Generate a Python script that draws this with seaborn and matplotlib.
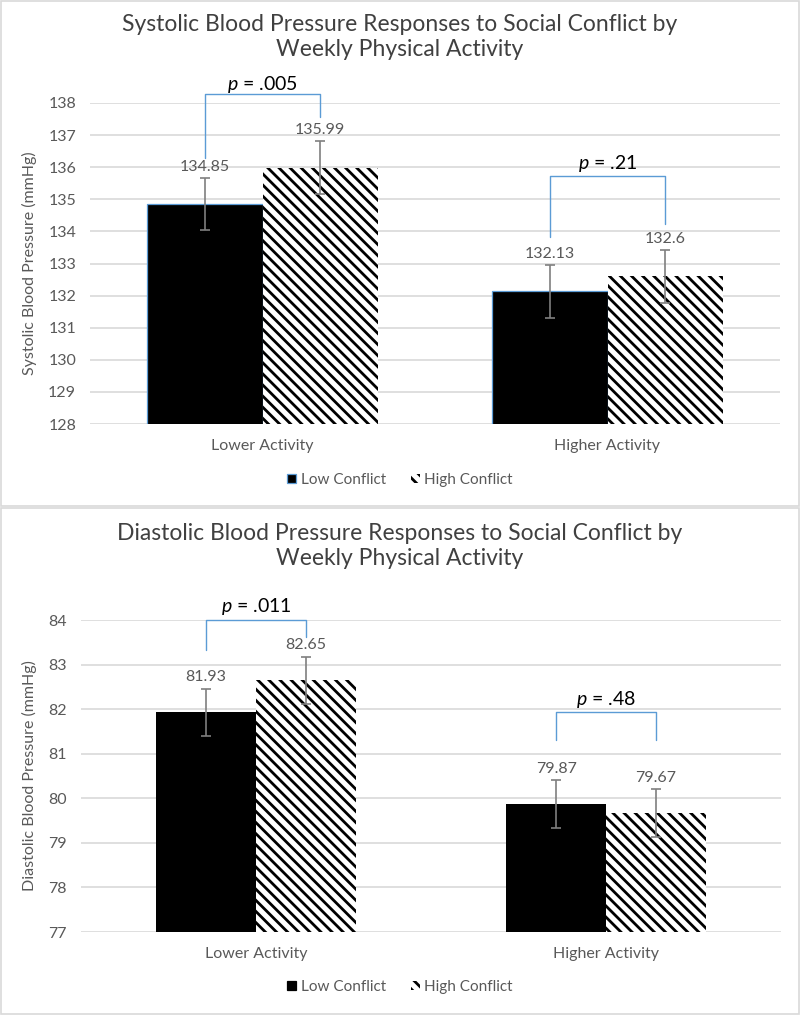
import matplotlib
matplotlib.use("Agg")
import matplotlib.pyplot as plt
import seaborn as sns
import pandas as pd
from matplotlib.patches import Patch, Rectangle

# ---- data ----
activity = ["Lower Activity", "Higher Activity"]
conflict = ["Low Conflict", "High Conflict"]
sys_low = [134.85, 132.13]
sys_high = [135.99, 132.6]
sys_err = [0.82, 0.82]       # same for both conflict levels
dia_low = [81.93, 79.87]
dia_high = [82.65, 79.67]
dia_err = [0.53, 0.53]
sys_p = [".005", ".21"]
dia_p = [".011", ".48"]
sys_ticks = list(range(128, 139))
dia_ticks = list(range(77, 85))

# bracket levels (top, left leg end, right leg end, text y)
sys_brackets = [(138.28, 136.3, 137.55, 138.58), (135.73, 133.83, 134.23, 136.12)]
dia_brackets = [(84.0, 83.33, 83.62, 84.3), (81.94, 81.31, 81.31, 82.22)]

sns.set_theme(style="white")
plt.rcParams['font.family'] = ['Lato', 'DejaVu Sans']
plt.rcParams['mathtext.fontset'] = 'custom'
plt.rcParams['mathtext.it'] = 'Lato:italic'
plt.rcParams['mathtext.rm'] = 'Lato'
plt.rcParams['hatch.linewidth'] = 2.0

GRAY = "#595959"
GRID = "#d9d9d9"
BLUE = "#5b9bd5"
HATCH = "\\\\\\"

fig = plt.figure(figsize=(8.0, 10.15), dpi=100)

# panel borders
fig.patches.append(Rectangle((0.001, 1 - 506 / 1015), 0.998, 505 / 1015, transform=fig.transFigure,
                             fill=False, edgecolor=GRID, lw=1.2))
fig.patches.append(Rectangle((0.001, 0.001), 0.998, 506 / 1015, transform=fig.transFigure,
                             fill=False, edgecolor=GRID, lw=1.2))


def panel(rect, low, high, err, ticks, ylabel, title, title_y, pvals, brackets, width, low_edge, legend_y):
    ax = fig.add_axes(rect)
    df = pd.DataFrame({
        "activity": activity * 2,
        "conflict": [conflict[0]] * 2 + [conflict[1]] * 2,
        "bp": list(low) + list(high),
    })
    sns.barplot(data=df, x="activity", y="bp", hue="conflict", order=activity, hue_order=conflict,
                palette=["black", "white"], width=width, errorbar=None, ax=ax, legend=False,
                saturation=1)
    low_bars = ax.containers[0]
    high_bars = ax.containers[1]
    for b in low_bars:
        b.set_edgecolor(low_edge)
        b.set_linewidth(0.9 if low_edge != "black" else 0)
    for b in high_bars:
        b.set_facecolor("white")
        b.set_edgecolor("black")
        b.set_hatch(HATCH)
        b.set_linewidth(0)
    ax.set_ylim(ticks[0], ticks[-1])
    ax.set_yticks(ticks)
    ax.set_xlim(-0.5, 1.5)
    ax.yaxis.grid(True, color=GRID, lw=1.2)
    ax.set_axisbelow(True)
    for s in ax.spines.values():
        s.set_visible(False)
    ax.tick_params(axis="both", length=0, labelsize=11.5, labelcolor=GRAY, pad=10)
    ax.tick_params(axis="x", pad=11)
    ax.set_xlabel("")
    ax.set_ylabel(ylabel, color=GRAY, fontsize=11.5, labelpad=8)

    for bars, vals in ((low_bars, low), (high_bars, high)):
        xs = [b.get_x() + b.get_width() / 2 for b in bars]
        ax.errorbar(xs, vals, yerr=err, fmt="none", ecolor="#7f7f7f", elinewidth=1.2,
                    capsize=3.5, capthick=1.2, zorder=5)
        for x, v, e in zip(xs, vals, err):
            ax.annotate(f"{v:g}", (x, v + e), xytext=(0, 3), textcoords="offset points",
                        ha="center", va="bottom", fontsize=11.5, color=GRAY)

    for i, (p, (top, l_end, r_end, ty)) in enumerate(zip(pvals, brackets)):
        xl = low_bars[i].get_x() + low_bars[i].get_width() / 2
        xr = high_bars[i].get_x() + high_bars[i].get_width() / 2
        ax.plot([xl, xl, xr, xr], [l_end, top, top, r_end], color=BLUE, lw=1.0, clip_on=False)
        ax.text((xl + xr) / 2, ty, f"$\\it{{p}}$ = {p}", ha="center", va="center",
                fontsize=14, color="black", clip_on=False)

    fig.text(0.5, title_y, title, ha="center", va="center", fontsize=16.5, color="#404040",
             linespacing=1.25)

    handles = [Patch(facecolor="black", edgecolor=low_edge, lw=0.9),
               Patch(facecolor="white", edgecolor="black", hatch=HATCH, lw=0)]
    fig.legend(handles, conflict, loc="center", bbox_to_anchor=(0.5, legend_y), ncol=2, frameon=False,
               fontsize=11, labelcolor=GRAY, handlelength=0.6, handleheight=0.6, handletextpad=0.3,
               columnspacing=1.6)
    return ax


panel([90 / 800, 1 - 424 / 1015, 690 / 800, 321 / 1015], sys_low, sys_high, sys_err, sys_ticks,
      "Systolic Blood Pressure (mmHg)",
      "Systolic Blood Pressure Responses to Social Conflict by\nWeekly Physical Activity",
      1 - 37 / 1015, sys_p, sys_brackets, 0.667, BLUE, 1 - 480 / 1015)

panel([81 / 800, 1 - 932 / 1015, 700 / 800, 312 / 1015], dia_low, dia_high, dia_err, dia_ticks,
      "Diastolic Blood Pressure (mmHg)",
      "Diastolic Blood Pressure Responses to Social Conflict by\nWeekly Physical Activity",
      1 - 546 / 1015, dia_p, dia_brackets, 0.57, "black", 1 - 987 / 1015)

fig.savefig("out.png", dpi=100, facecolor="white")
